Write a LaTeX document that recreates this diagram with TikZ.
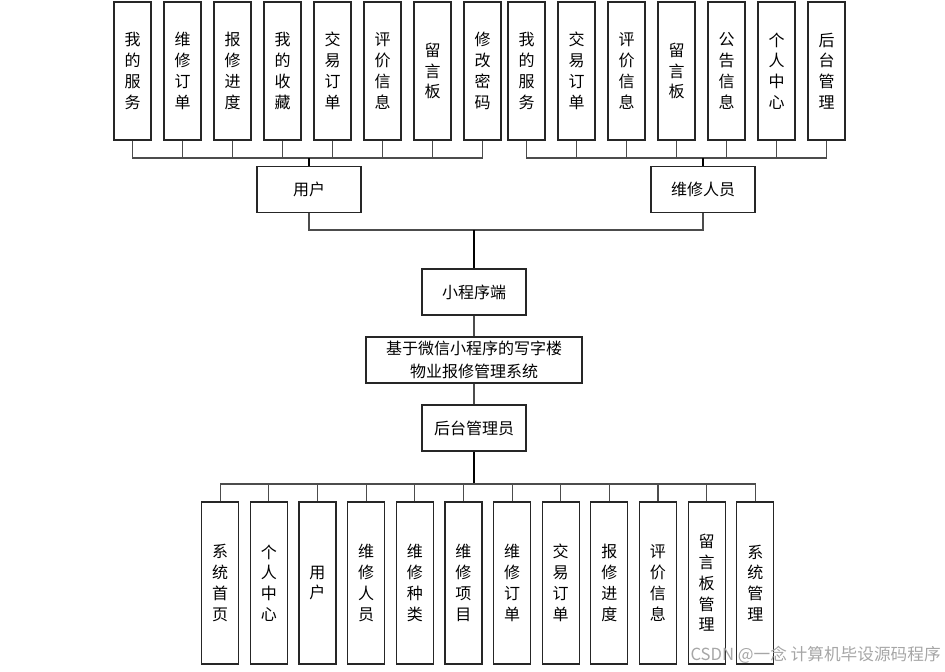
\documentclass[tikz,border=0pt]{standalone}
\usepackage{fontspec}
\newfontfamily\cjk{Noto Sans CJK SC}
\tikzset{
  px/.style={x=0.75pt,y=-0.75pt},
  vbox/.style={draw=black!85, line width=0.9pt, minimum width=27.75pt, minimum height=103.5pt, inner sep=0pt, align=center, font=\cjk\fontsize{12}{15.6}\selectfont},
  lbox/.style={vbox, minimum height=121.5pt},
  hbox/.style={draw=black!85, line width=0.9pt, minimum width=78pt, minimum height=34.5pt, inner sep=0pt, align=center, font=\cjk\fontsize{12}{17}\selectfont},
  conn/.style={draw=black!70, line width=0.8pt},
  trunk/.style={draw=black, line width=1.4pt},
  wmark/.style={text=black!35, font=\cjk\fontsize{12.5}{14}\selectfont, inner sep=0pt}
}
\begin{document}
\begin{tikzpicture}[px]
\useasboundingbox (0,0) rectangle (945,671);
% top user items
\foreach \t [count=\i from 0] in {我\\的\\服\\务,维\\修\\订\\单,报\\修\\进\\度,我\\的\\收\\藏,交\\易\\订\\单,评\\价\\信\\息,留\\言\\板,修\\改\\密\\码}
  \node[vbox] (u\i) at ({132.5+50*\i},71) {\t};
% top maintenance items
\foreach \t [count=\i from 0] in {我\\的\\服\\务,交\\易\\订\\单,评\\价\\信\\息,留\\言\\板,公\\告\\信\\息,个\\人\\中\\心,后\\台\\管\\理}
  \node[vbox] (m\i) at ({526.5+50*\i},71) {\t};
\node[hbox] (user) at (309,189.7) {用户};
\node[hbox] (maint) at (703,189.7) {维修人员};
\node[hbox] (mini) at (474,292) {小程序端};
\node[hbox, minimum width=162pt, font=\cjk\fontsize{12}{17.5}\selectfont] (sys) at (474,360) {基于微信小程序的写字楼\\物业报修管理系统};
\node[hbox] (admin) at (474,428) {后台管理员};
% bottom admin items
\foreach \t [count=\i from 0] in {系\\统\\首\\页,个\\人\\中\\心,用\\户,维\\修\\人\\员,维\\修\\种\\类,维\\修\\项\\目,维\\修\\订\\单,交\\易\\订\\单,报\\修\\进\\度,评\\价\\信\\息,留\\言\\板\\管\\理,系\\统\\管\\理}
  \node[lbox] (b\i) at ({220.2+48.64*\i},583) {\t};
% bus points
\coordinate (ub) at (309,158);
\coordinate (mb) at (703,158);
\coordinate (cb) at (474,230);
\coordinate (bb) at (474,484);
% connectors top
\foreach \i in {0,...,7} \draw[conn] (u\i.south) |- (ub);
\foreach \i in {0,...,6} \draw[conn] (m\i.south) |- (mb);
\draw[trunk] (ub) -- (user.north);
\draw[trunk] (mb) -- (maint.north);
\draw[conn] (user.south) |- (cb);
\draw[conn] (maint.south) |- (cb);
\draw[trunk] (cb) -- (mini.north);
\draw[conn] (mini.south) -- (sys.north);
\draw[conn] (sys.south) -- (admin.north);
\draw[trunk] (admin.south) -- (bb);
\foreach \i in {0,...,11} \draw[conn] (b\i.north) |- (bb);
% watermark
\node[wmark, anchor=east] (wm) at (941,655) {CSDN @一念 计算机毕设源码程序};
\end{tikzpicture}
\end{document}
